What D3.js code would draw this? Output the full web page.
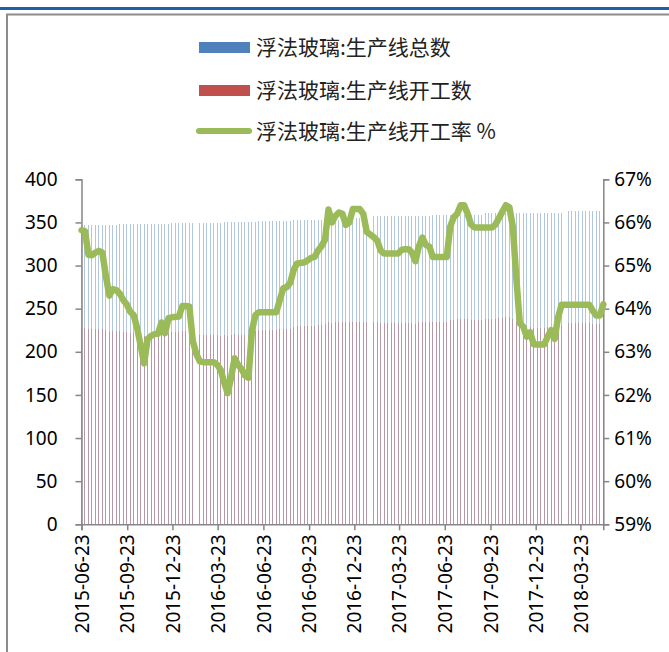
<!DOCTYPE html>
<html>
<head>
<meta charset="utf-8">
<script src="https://cdn.jsdelivr.net/npm/d3@7/dist/d3.min.js"></script>
<style>
body { margin: 0; background: #fff; }
svg { display: block; }
</style>
</head>
<body>
<svg id="chart" width="669" height="652"></svg>
<script>
// weekly data, first week 2015-06-23 (null = week not reported)
var firstWeek = "2015-06-23";
var seriesNames = ["浮法玻璃:生产线总数", "浮法玻璃:生产线开工数", "浮法玻璃:生产线开工率 %"];

var totalLines = [
  347,347,347,347,347,347,347,347,347,347,
  347,348,348,348,348,348,348,348,348,348,
  348,348,348,348,348,348,349,349,349,349,
  349,349,349,null,349,349,349,349,349,349,
  349,351,351,351,351,351,351,351,351,351,
  351,352,352,352,352,352,352,352,352,352,
  352,353,353,353,353,353,353,353,353,353,
  353,353,353,353,353,353,355,355,355,355,
  355,355,355,null,357,357,357,357,357,357,
  357,357,357,357,357,357,357,357,357,357,
  357,359,359,359,359,359,359,359,359,359,
  359,359,359,359,359,359,361,361,361,361,
  361,361,361,361,361,361,361,361,361,361,
  361,361,361,361,361,361,361,361,361,null,
  363,363,363,363,363,363,363,363,363,363,
  363
];

var openLines = [
  228,228,226,226,227,227,227,225,223,224,
  224,224,223,223,222,222,221,220,218,220,
  221,221,221,222,221,222,223,223,223,224,
  224,224,221,null,219,219,219,219,219,219,
  218,219,218,219,221,220,220,219,219,223,
  224,225,225,225,225,225,225,226,227,227,
  227,229,230,230,230,230,230,230,231,231,
  232,234,233,234,234,234,234,234,235,235,
  235,235,234,null,234,234,233,233,233,233,
  233,233,233,233,233,233,232,234,234,234,
  234,234,234,234,234,234,237,237,238,238,
  238,238,237,237,237,237,238,238,238,238,
  239,239,240,240,238,234,230,230,229,229,
  228,228,228,228,229,229,228,230,231,null,
  233,233,233,233,233,233,233,232,232,232,
  233
];

var openRate = [
  65.82,65.8,65.25,65.24,65.3,65.34,65.3,64.76,64.3,64.45,
  64.43,64.35,64.2,64.1,63.93,63.85,63.55,63.15,62.73,63.3,
  63.37,63.41,63.42,63.68,63.43,63.78,63.8,63.81,63.82,64.06,
  64.06,64.05,63.25,62.95,62.78,62.76,62.76,62.76,62.76,62.7,
  62.58,62.3,62.04,62.4,62.85,62.7,62.6,62.45,62.4,63.5,
  63.85,63.92,63.92,63.92,63.92,63.92,63.92,64.2,64.47,64.5,
  64.6,64.9,65.05,65.06,65.07,65.12,65.18,65.2,65.35,65.45,
  65.6,66.3,66.0,66.15,66.23,66.2,65.94,66.0,66.31,66.31,
  66.31,66.2,65.78,65.72,65.66,65.58,65.35,65.28,65.28,65.28,
  65.28,65.28,65.36,65.38,65.38,65.3,65.1,65.45,65.65,65.48,
  65.44,65.2,65.2,65.2,65.2,65.2,65.9,66.12,66.2,66.4,
  66.4,66.2,65.95,65.88,65.88,65.88,65.88,65.88,65.88,65.95,
  66.1,66.25,66.4,66.35,65.9,64.7,63.66,63.58,63.35,63.45,
  63.17,63.17,63.17,63.17,63.35,63.5,63.3,63.8,64.09,64.09,
  64.09,64.09,64.09,64.09,64.09,64.09,64.09,63.95,63.84,63.84,
  64.1
];

var leftTicks = [0, 50, 100, 150, 200, 250, 300, 350, 400];
var rightTicks = [59, 60, 61, 62, 63, 64, 65, 66, 67];
var dateTicks = ["2015-06-23", "2015-09-23", "2015-12-23", "2016-03-23", "2016-06-23", "2016-09-23",
                 "2016-12-23", "2017-03-23", "2017-06-23", "2017-09-23", "2017-12-23", "2018-03-23"];

var colors = { total: "#4F81BD", open: "#C0504D", rate: "#9BBB59", axis: "#868686" };

var parse = d3.timeParse("%Y-%m-%d");
var start = parse(firstWeek);
var weeks = openRate.map(function(v, i) { return d3.timeDay.offset(start, i * 7); });

var plot = { left: 81.5, right: 603.3, top: 179.3, bottom: 524.3 };

var svg = d3.select("#chart");

// page frame
svg.append("rect").attr("x", 0).attr("y", 7).attr("width", 669).attr("height", 3).attr("fill", "#1F5FA8");
svg.append("path").attr("d", "M7,652V14.5H669").attr("fill", "none").attr("stroke", "#8c8c8c").attr("stroke-width", 2);

var x = d3.scaleTime().domain([weeks[0], weeks[weeks.length - 1]]).range([plot.left, plot.right]);
var yLeft = d3.scaleLinear().domain([0, 400]).range([plot.bottom, plot.top]);
var yRight = d3.scaleLinear().domain([59, 67]).range([plot.bottom, plot.top]);

// bars: thin columns, total behind, operating in front
var bars = svg.append("g").attr("shape-rendering", "crispEdges");
bars.selectAll("rect.total")
  .data(weeks.filter(function(d, i) { return totalLines[i] != null; }))
  .enter().append("rect")
  .attr("class", "total")
  .attr("x", function(d) { return x(d) - 0.5; })
  .attr("width", 1)
  .attr("y", function(d) { return yLeft(totalLines[weeks.indexOf(d)]); })
  .attr("height", function(d) { return plot.bottom - yLeft(totalLines[weeks.indexOf(d)]); })
  .attr("fill", colors.total)
  .attr("fill-opacity", 0.45);

bars.selectAll("rect.open")
  .data(weeks.filter(function(d, i) { return openLines[i] != null; }))
  .enter().append("rect")
  .attr("class", "open")
  .attr("x", function(d) { return x(d) - 0.5; })
  .attr("width", 1)
  .attr("y", function(d) { return yLeft(openLines[weeks.indexOf(d)]); })
  .attr("height", function(d) { return plot.bottom - yLeft(openLines[weeks.indexOf(d)]); })
  .attr("fill", colors.open)
  .attr("fill-opacity", 0.4);

// axes
var numFont = "'Noto Sans', 'Open Sans', sans-serif";

var leftAxis = svg.append("g")
  .attr("transform", "translate(" + plot.left + ",0)")
  .call(d3.axisLeft(yLeft).tickValues(leftTicks).tickSize(6).tickPadding(18));
var rightAxis = svg.append("g")
  .attr("transform", "translate(" + plot.right + ",0)")
  .call(d3.axisRight(yRight).tickValues(rightTicks).tickSize(6).tickPadding(5)
        .tickFormat(function(d) { return d + "%"; }));
var bottomAxis = svg.append("g")
  .attr("transform", "translate(0," + plot.bottom + ")")
  .call(d3.axisBottom(x).tickValues(dateTicks.map(parse)).tickSize(6)
        .tickFormat(d3.timeFormat("%Y-%m-%d")));

[leftAxis, rightAxis, bottomAxis].forEach(function(a) {
  a.select(".domain").attr("stroke", colors.axis).attr("stroke-width", 1.5);
  a.selectAll(".tick line").attr("stroke", colors.axis).attr("stroke-width", 1.5);
  a.selectAll("text").attr("font-family", numFont).attr("font-size", 19).attr("fill", "#000");
});

bottomAxis.selectAll(".tick text")
  .attr("text-anchor", "end")
  .attr("transform", "rotate(-90)")
  .attr("x", -10)
  .attr("y", 0)
  .attr("dy", "0.35em");

// rate line on the right axis
var line = d3.line()
  .x(function(d, i) { return x(weeks[i]); })
  .y(function(d) { return yRight(d); });

svg.append("path")
  .datum(openRate)
  .attr("d", line)
  .attr("fill", "none")
  .attr("stroke", colors.rate)
  .attr("stroke-width", 6.5)
  .attr("stroke-linejoin", "round")
  .attr("stroke-linecap", "round");

// legend
var legend = svg.append("g").attr("font-family", "'Noto Sans CJK SC', sans-serif").attr("font-size", 21);
var rowsY = [47, 90, 131];
legend.append("rect").attr("x", 199).attr("y", rowsY[0] - 5).attr("width", 51).attr("height", 11).attr("fill", colors.total);
legend.append("rect").attr("x", 199).attr("y", rowsY[1] - 5).attr("width", 51).attr("height", 11).attr("fill", colors.open);
legend.append("line").attr("x1", 199).attr("x2", 249).attr("y1", rowsY[2]).attr("y2", rowsY[2])
  .attr("stroke", colors.rate).attr("stroke-width", 6).attr("stroke-linecap", "round");
legend.selectAll("text")
  .data(seriesNames)
  .enter().append("text")
  .attr("x", 256)
  .attr("y", function(d, i) { return rowsY[i]; })
  .attr("dy", "0.36em")
  .attr("fill", "#222")
  .text(function(d) { return d; });
</script>
</body>
</html>
